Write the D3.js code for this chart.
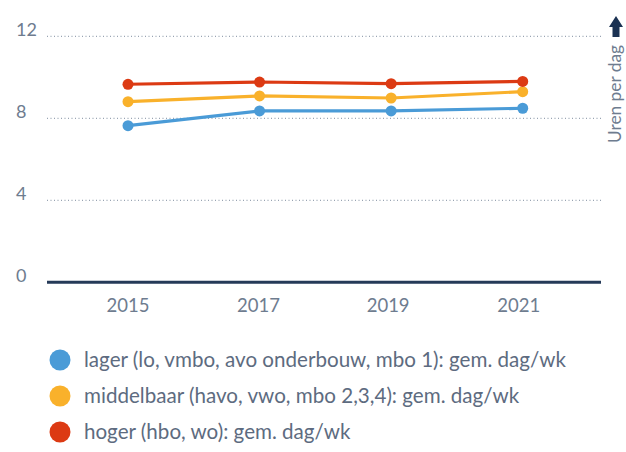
<!DOCTYPE html>
<html><head><meta charset="utf-8">
<script src="https://cdn.jsdelivr.net/npm/d3@7"></script>
<style>body{margin:0;background:#fff}svg{display:block}text{font-family:Lato,"Open Sans",sans-serif}</style>
</head><body>
<svg id="c" width="626" height="452"></svg>
<script>
const years = ["2015","2017","2019","2021"];
const lager = [7.64, 8.36, 8.36, 8.49];
const middelbaar = [8.81, 9.09, 8.99, 9.30];
const hoger = [9.66, 9.77, 9.69, 9.80];
const yTicks = [0, 4, 8, 12];
const seriesNames = [
  "lager (lo, vmbo, avo onderbouw, mbo 1): gem. dag/wk",
  "middelbaar (havo, vwo, mbo 2,3,4): gem. dag/wk",
  "hoger (hbo, wo): gem. dag/wk"
];
const colors = ["#4a9bd7", "#f9b12b", "#dc3a13"];
const series = [lager, middelbaar, hoger];

const svg = d3.select("#c");
const x0 = 47, x1 = 601;
const x = d3.scalePoint().domain(years).range([128, 522.7]);
const y = d3.scaleLinear().domain([0, 12]).range([282.3, 36.3]);

// grid
svg.append("g").selectAll("line").data(yTicks.filter(d => d > 0)).join("line")
  .attr("x1", x0).attr("x2", x1).attr("y1", d => y(d)).attr("y2", d => y(d))
  .attr("stroke", "#98a3b2").attr("stroke-width", 1.2).attr("stroke-dasharray", "1 2.5");
// y labels
svg.append("g").selectAll("text").data(yTicks).join("text")
  .attr("x", 16).attr("y", d => y(d) - 0.5)
  .attr("font-size", 18).attr("fill", "#6e7c8f").text(d => d);
// baseline
svg.append("line").attr("x1", x0).attr("x2", x1).attr("y1", y(0)).attr("y2", y(0))
  .attr("stroke", "#253a58").attr("stroke-width", 3);
// x labels
svg.append("g").selectAll("text").data(years).join("text")
  .attr("x", d => x(d) + (d==="2021"? -4 : d==="2019" ? -3 : d==="2017"? -1 : 0)).attr("y", 312).attr("text-anchor", "middle")
  .attr("font-size", 18.5).attr("fill", "#6e7c8f").text(d => d);

// lines
const line = d3.line().x((d, i) => x(years[i])).y(d => y(d));
series.forEach((s, k) => {
  svg.append("path").datum(s).attr("d", line).attr("fill", "none")
    .attr("stroke", colors[k]).attr("stroke-width", 3.2);
  svg.append("g").selectAll("circle").data(s).join("circle")
    .attr("cx", (d, i) => x(years[i])).attr("cy", d => y(d)).attr("r", 5.5)
    .attr("fill", colors[k]);
});

// axis title
const at = svg.append("g").attr("transform", "translate(621,143) rotate(-90)");
at.append("text").attr("x", 0).attr("y", 0).attr("font-size", 17.3).attr("fill", "#6e7c8f").text("Uren per dag");
// arrow
svg.append("path").attr("d", "M609,27 L616,16 L623,27 L619.5,27 L619.5,37 L612.5,37 L612.5,27 Z").attr("fill", "#1b3253");

// legend
const lg = svg.append("g").selectAll("g").data(seriesNames).join("g")
  .attr("transform", (d, i) => `translate(0,${360 + i * 36})`);
lg.append("circle").attr("cx", 60).attr("cy", 0).attr("r", 10.5).attr("fill", (d, i) => colors[i]);
lg.append("text").attr("x", 84).attr("y", 7).attr("font-size", 20.6).attr("fill", "#5d6b80").text(d => d);
</script>
</body></html>
